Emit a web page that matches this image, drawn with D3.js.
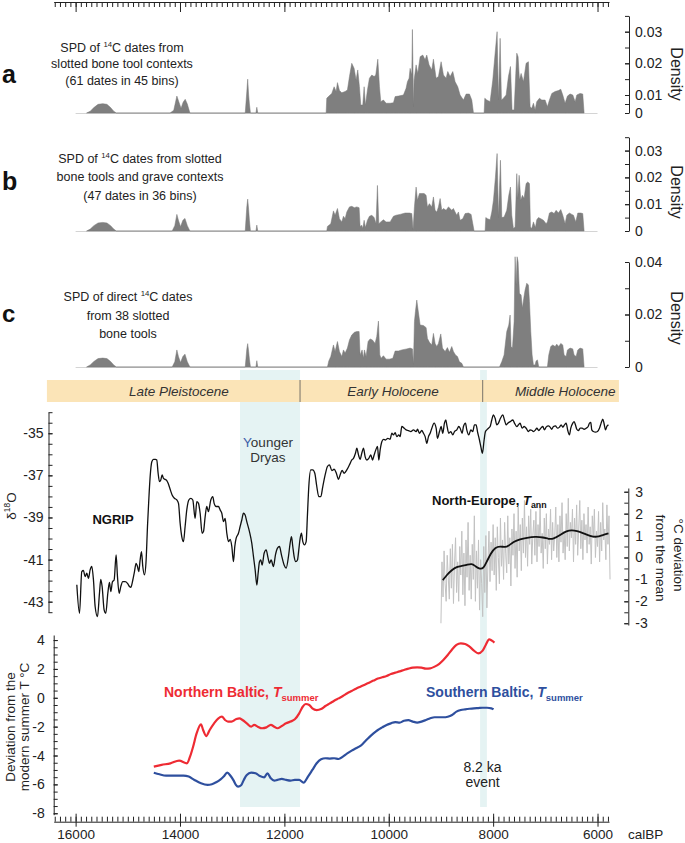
<!DOCTYPE html>
<html><head><meta charset="utf-8">
<script src="https://cdn.jsdelivr.net/npm/d3@7"></script>
<style>body{margin:0;background:#fff}svg{display:block}text{font-family:"Liberation Sans",Arial,sans-serif}</style>
</head><body><svg id="c" width="685" height="843"></svg>
<script>
// ---------------- DATA ----------------
const xMajorTicks = [16000,14000,12000,10000,8000,6000];
const youngerDryas = [12850, 11700];
const event82 = [8250, 8120];
const periodNames = ["Late Pleistocene","Early Holocene","Middle Holocene"];
const periodBounds = [16550, 11700, 8200, 5590];

const spdA = [[15790,0],[15720,0.001],[15650,0.003],[15570,0.0048],[15480,0.0052],[15400,0.0048],[15330,0.003],[15270,0.001],[15220,0],
[14190,0],[14120,0.0015],[14060,0.0094],[14020,0.006],[13980,0.0026],[13940,0.006],[13900,0.0076],[13860,0.005],[13810,0],
[12750,0],[12720,0.011],[12703,0.015],[12685,0.01],[12670,0.005],[12650,0],[12545,0],[12528,0.0032],[12510,0],
[11200,0],[11188,0.0082],[11156,0.0091],[11092,0.0105],[11047,0.0126],[11009,0.0111],[10983,0.0139],[10945,0.0114],[10900,0.0107],[10836,0.0111],[10792,0.0116],[10753,0.0158],[10709,0.0200],[10664,0.0184],[10626,0.0147],[10594,0.0179],[10562,0.0126],[10536,0.0044],[10498,0.0044],[10472,0.0126],[10447,0.0044],[10408,0.0116],[10370,0.0153],[10325,0.0163],[10281,0.0158],[10249,0.0163],[10210,0.0213],[10178,0.0126],[10153,0.0063],[10102,0.0072],[10051,0.0054],[9974,0.0054],[9910,0.0057],[9878,0.0091],[9814,0.0094],[9719,0.0100],[9668,0.0121],[9642,0.0142],[9610,0.0153],[9591,0.0184],[9559,0.0163],[9547,0.0307],[9534,0.0163],[9527,0.0035],[9514,0.0147],[9476,0.0195],[9444,0.0168],[9399,0.0221],[9348,0.0226],[9304,0.0211],[9272,0.0226],[9227,0.0195],[9176,0.0179],[9144,0.0213],[9093,0.0153],[9048,0.0158],[8997,0.0205],[8952,0.0163],[8901,0.0153],[8869,0.0174],[8824,0.0158],[8773,0.0174],[8729,0.0142],[8678,0.0126],[8633,0.0100],[8569,0.0072],[8518,0.0103],[8454,0.0103],[8409,0.0072],[8377,0],
[8173,0],[8160,0.0082],[8122,0.0072],[8058,0.0063],[8007,0.0147],[7962,0.0232],[7924,0.0300],[7898,0.0072],[7866,0.0279],[7841,0.0072],[7803,0.0082],[7751,0.0100],[7707,0.0158],[7668,0.0190],[7637,0.0017],[7598,0.0017],[7566,0.0168],[7547,0.0232],[7522,0.0221],[7496,0.0147],[7464,0.0168],[7419,0.0142],[7368,0.0200],[7324,0.0205],[7292,0.0035],[7260,0.0026],[7228,0.0054],[7196,0.0017],[7164,0.0063],[7113,0.0082],[7068,0.0072],[7004,0.0072],[6960,0.0035],[6921,0.0072],[6876,0.0105],[6813,0.0111],[6749,0.0114],[6704,0.0118],[6666,0.0100],[6621,0.0054],[6576,0.0094],[6525,0.0103],[6474,0.0100],[6429,0.0063],[6397,0.0100],[6334,0.0105],[6283,0.0103],[6257,0]];

const spdB = [[15790,0],[15720,0.0007],[15650,0.002],[15570,0.003],[15480,0.0032],[15400,0.003],[15330,0.002],[15270,0.0007],[15220,0],
[14150,0],[14100,0.002],[14060,0.0062],[14030,0.004],[13990,0.0016],[13945,0.004],[13905,0.0047],[13860,0.002],[13810,0],
[12750,0],[12720,0.009],[12703,0.0119],[12685,0.008],[12670,0.004],[12650,0],[12545,0],[12528,0.0022],[12510,0],
[11188,0],[11175,0.0017],[11111,0.0027],[11060,0.0075],[11028,0.0059],[10983,0.0084],[10945,0.0046],[10900,0.0034],[10868,0.0055],[10836,0.0046],[10804,0.0071],[10753,0.0090],[10709,0.0092],[10658,0.0087],[10613,0.0090],[10568,0.0087],[10549,0.0017],[10517,0.0021],[10498,0.0009],[10472,0.0040],[10447,0.0013],[10408,0.0040],[10370,0.0055],[10325,0.0059],[10281,0.0050],[10243,0.0027],[10217,0.0170],[10191,0.0027],[10153,0.0034],[10102,0.0042],[10051,0.0034],[9974,0.0034],[9910,0.0055],[9859,0.0059],[9783,0.0062],[9687,0.0067],[9604,0.0067],[9559,0.0065],[9534,0.0005],[9508,0.0090],[9476,0.0164],[9450,0.0115],[9412,0.0140],[9367,0.0140],[9323,0.0140],[9284,0.0133],[9259,0.0090],[9221,0.0102],[9176,0.0090],[9144,0.0127],[9112,0.0077],[9080,0.0071],[9048,0.0090],[9016,0.0121],[8984,0.0077],[8952,0.0084],[8901,0.0077],[8857,0.0090],[8824,0.0084],[8793,0.0077],[8761,0.0084],[8729,0.0071],[8697,0.0059],[8665,0.0071],[8633,0.0040],[8582,0.0046],[8537,0.0065],[8473,0.0067],[8422,0.0062],[8390,0.0027],[8365,0],
[8154,0],[8141,0.0050],[8109,0.0046],[8058,0.0042],[8026,0.0071],[7994,0.0115],[7956,0.0201],[7924,0.0289],[7898,0.0050],[7860,0.0264],[7834,0.0050],[7790,0.0052],[7739,0.0077],[7700,0.0133],[7668,0.0164],[7643,0.0059],[7611,0.0009],[7579,0.0015],[7547,0.0214],[7528,0.0121],[7502,0.0208],[7471,0.0115],[7439,0.0133],[7407,0.0121],[7368,0.0177],[7336,0.0183],[7304,0.0177],[7285,0.0015],[7260,0.0009],[7228,0.0034],[7190,0.0013],[7164,0.0042],[7132,0.0050],[7087,0.0046],[7036,0.0040],[6985,0.0027],[6960,0.0034],[6921,0.0067],[6876,0.0071],[6832,0.0065],[6793,0.0077],[6749,0.0067],[6704,0.0080],[6666,0.0059],[6621,0.0027],[6589,0.0059],[6538,0.0067],[6493,0.0062],[6461,0.0059],[6417,0.0034],[6378,0.0067],[6321,0.0067],[6283,0.0065],[6257,0]];

const spdC = [[15790,0],[15720,0.0008],[15650,0.0021],[15570,0.0032],[15480,0.0034],[15400,0.0032],[15330,0.0021],[15270,0.0008],[15220,0],
[14150,0],[14100,0.002],[14060,0.0065],[14030,0.004],[13990,0.0017],[13945,0.004],[13905,0.0049],[13860,0.002],[13810,0],
[12750,0],[12720,0.0068],[12703,0.0089],[12685,0.006],[12670,0.003],[12650,0],[12545,0],[12528,0.0024],[12510,0],
[11175,0],[11149,0.0023],[11111,0.0040],[11060,0.0084],[11028,0.0059],[10983,0.0097],[10945,0.0059],[10900,0.0040],[10868,0.0065],[10836,0.0053],[10792,0.0072],[10753,0.0103],[10709,0.0122],[10658,0.0132],[10613,0.0135],[10568,0.0135],[10549,0.0046],[10511,0.0065],[10485,0.0033],[10466,0.0065],[10434,0.0040],[10396,0.0097],[10357,0.0107],[10313,0.0103],[10262,0.0090],[10230,0.0116],[10198,0.0175],[10172,0.0046],[10147,0.0033],[10102,0.0043],[10051,0.0030],[9987,0.0030],[9923,0.0033],[9878,0.0061],[9814,0.0061],[9751,0.0065],[9655,0.0069],[9591,0.0072],[9546,0.0069],[9527,0.0010],[9508,0.0173],[9489,0.0211],[9463,0.0255],[9438,0.0217],[9399,0.0160],[9336,0.0158],[9284,0.0150],[9259,0.0109],[9221,0.0094],[9176,0.0084],[9144,0.0128],[9112,0.0090],[9080,0.0078],[9048,0.0090],[9003,0.0126],[8971,0.0072],[8920,0.0059],[8876,0.0074],[8837,0.0056],[8793,0.0078],[8761,0.0059],[8722,0.0046],[8684,0.0040],[8646,0.0020],[8601,0.0014],[8569,0],
[7879,0],[7835,0.0020],[7790,0.0046],[7739,0.0135],[7700,0.0160],[7675,0.0198],[7656,0.0078],[7630,0.0072],[7598,0.0173],[7579,0.0420],[7560,0.0312],[7541,0.0420],[7522,0.0401],[7496,0.0281],[7464,0.0274],[7439,0.0224],[7413,0.0262],[7388,0.0293],[7356,0.0319],[7324,0.0312],[7304,0.0249],[7279,0.0135],[7253,0.0046],[7228,0.0008],[7196,0.0008],[7177,0.0023],[7151,0.0027],[7126,0],
[6960,0],[6934,0.0046],[6896,0.0078],[6857,0.0084],[6813,0.0078],[6781,0.0087],[6742,0.0078],[6704,0.0090],[6666,0.0084],[6640,0.0046],[6602,0.0040],[6576,0.0065],[6525,0.0072],[6474,0.0069],[6449,0.0046],[6410,0.0040],[6378,0.0065],[6334,0.0072],[6283,0.0069],[6257,0]];

const ngripYears = [15977,15926,15882,15850,15818,15786,15754,15722,15690,15658,15626,15581,15543,15518,15492,15454,15422,15383,15352,15326,15294,15262,15224,15198,15166,15134,15096,15051,15006,14968,14943,14904,14872,14841,14815,14790,14764,14738,14713,14681,14649,14623,14598,14572,14540,14508,14470,14445,14419,14393,14368,14342,14317,14285,14253,14227,14189,14151,14106,14061,14029,13997,13966,13934,13902,13870,13831,13793,13755,13710,13678,13646,13614,13576,13550,13518,13487,13455,13410,13372,13346,13308,13263,13231,13199,13167,13135,13103,13071,13039,13007,12976,12950,12925,12880,12848,12816,12784,12752,12720,12669,12624,12592,12560,12528,12503,12477,12452,12426,12388,12350,12311,12286,12254,12209,12171,12132,12094,12056,12005,11966,11922,11890,11864,11839,11813,11781,11749,11724,11698,11673,11647,11615,11583,11558,11532,11494,11456,11417,11379,11341,11302,11264,11219,11175,
11136,11091,11047,11008,10964,10932,10893,10855,10804,10753,10708,10676,10638,10612,10580,10549,10517,10485,10453,10421,10382,10344,10312,10280,10248,10216,10191,10165,10133,10101,10063,10018,9974,9942,9910,9878,9846,9808,9782,9750,9705,9667,9622,9578,9527,9476,9450,9412,9367,9335,9303,9271,9239,9207,9175,9131,9092,9067,9028,8997,8965,8933,8907,8888,8850,8811,8773,8741,8696,8658,8632,8594,8569,8530,8505,8466,8428,8390,8358,8326,8300,8262,8230,8205,8173,8147,8122,8090,8058,8026,7994,7962,7930,7898,7860,7815,7783,7751,7719,7674,7623,7591,7547,7515,7483,7445,7406,7368,7323,7291,7253,7227,7189,7163,7125,7087,7048,7017,6985,6940,6908,6876,6844,6806,6768,6729,6697,6665,6633,6601,6570,6538,6512,6474,6448,6423,6397,6365,6333,6295,6257,6218,6180,6154,6129,6110,6078,6039,6001,5963,5931,5898,5873,5847,5822,5790];
const ngripD18O = [-42.20,-43.55,-41.57,-41.52,-41.81,-41.65,-41.89,-41.49,-41.33,-41.97,-43.23,-43.71,-42.60,-41.94,-42.28,-43.39,-43.55,-42.60,-42.09,-42.52,-42.05,-41.97,-40.78,-41.81,-42.60,-42.28,-42.05,-42.05,-42.13,-42.28,-42.32,-41.97,-41.57,-41.18,-41.33,-41.57,-41.02,-40.62,-41.33,-41.73,-41.02,-39.43,-38.17,-37.06,-36.35,-36.24,-36.24,-36.27,-36.90,-37.30,-37.22,-36.98,-37.14,-37.19,-37.25,-37.38,-37.66,-37.93,-38.09,-38.17,-38.33,-39.28,-39.91,-40.15,-39.43,-38.64,-38.17,-38.09,-38.17,-39.04,-38.25,-38.33,-38.80,-39.75,-39.67,-38.96,-38.48,-38.72,-38.17,-38.01,-38.33,-38.48,-38.48,-38.64,-38.80,-39.20,-39.04,-39.75,-40.15,-40.04,-40.38,-41.10,-40.38,-39.99,-39.75,-39.43,-39.12,-38.80,-38.88,-39.20,-39.67,-40.23,-40.86,-41.49,-42.21,-41.65,-41.10,-41.02,-41.26,-40.70,-40.54,-40.94,-41.18,-41.02,-41.33,-40.78,-40.46,-40.38,-40.78,-41.26,-41.41,-40.86,-40.23,-39.91,-40.38,-40.86,-41.10,-41.02,-40.54,-39.99,-39.75,-40.15,-40.30,-40.15,-38.88,-37.53,-36.74,-36.74,-36.90,-37.53,-38.01,-38.01,-37.53,-36.98,-36.58,
-36.50,-36.77,-36.71,-36.87,-37.19,-36.98,-36.77,-36.90,-36.74,-36.50,-36.27,-36.19,-35.95,-35.71,-36.03,-36.24,-35.95,-35.71,-36.11,-36.27,-36.19,-36.03,-36.27,-36.03,-35.79,-35.63,-36.27,-35.79,-35.40,-35.29,-35.32,-35.24,-35.29,-35.00,-35.08,-34.97,-35.16,-35.08,-35.16,-34.68,-34.76,-34.84,-34.87,-34.92,-34.84,-34.92,-34.81,-35.00,-34.87,-35.00,-35.16,-35.48,-35.16,-35.00,-34.76,-34.52,-34.76,-35.24,-34.92,-34.68,-35.00,-34.52,-34.37,-34.60,-35.00,-34.92,-35.08,-34.92,-34.84,-34.68,-34.76,-35.00,-34.68,-34.52,-34.84,-35.08,-34.84,-34.92,-34.60,-34.60,-34.92,-35.32,-35.71,-35.95,-35.32,-34.92,-34.84,-34.76,-34.68,-34.37,-34.13,-34.29,-34.60,-34.52,-34.29,-34.13,-34.37,-34.60,-34.52,-34.45,-34.37,-34.52,-34.68,-34.60,-34.52,-34.76,-34.68,-34.76,-34.92,-34.84,-34.87,-34.92,-34.84,-34.76,-34.87,-34.76,-34.68,-34.84,-34.71,-34.65,-34.71,-34.81,-34.68,-34.65,-34.76,-34.71,-34.60,-34.71,-34.60,-34.52,-34.87,-35.08,-34.76,-34.52,-34.45,-34.60,-34.81,-34.87,-34.76,-34.76,-34.81,-34.76,-34.68,-34.52,-34.49,-34.84,-34.92,-34.95,-34.92,-34.76,-34.52,-34.33,-34.56,-34.84,-34.68,-34.60];

const neSmooth = [[8965,-1.03],[8888,-0.80],[8792,-0.57],[8696,-0.42],[8601,-0.39],[8505,-0.34],[8409,-0.27],[8345,-0.39],[8249,-0.54],[8186,-0.49],[8122,-0.19],[8045,0.19],[7962,0.46],[7866,0.52],[7770,0.46],[7707,0.52],[7611,0.72],[7483,0.84],[7355,0.90],[7196,0.95],[7036,0.92],[6940,0.84],[6844,0.84],[6717,1.03],[6589,1.22],[6493,1.25],[6397,1.22],[6269,1.10],[6142,0.98],[6014,0.92],[5899,1.03],[5790,1.10]];
const neGreyStart = 9000, neGreyStep = 20;
const neGrey = [-3.0,-0.2,-1.8,0.3,-1.2,-2.0,0.1,-0.9,-1.9,0.4,
-1.4,0.6,-2.1,-0.3,0.9,-1.6,-0.2,-2.0,0.5,-0.8,
1.2,-1.7,0.2,-2.2,0.8,-0.9,1.6,-1.5,0.1,-1.9,
0.6,-1.0,1.9,-2.0,0.3,-1.4,0.8,-2.4,-0.1,-1.2,
-2.7,0.5,-1.6,1.0,-2.3,-0.3,1.2,-1.1,0.7,-0.6,
1.5,-0.8,0.9,-1.5,1.4,0.0,-1.2,1.8,-0.4,0.8,
-1.0,1.6,0.2,-0.7,1.9,-0.3,0.9,-1.3,1.3,0.1,
2.0,-0.5,1.2,-0.9,2.3,0.3,1.5,-0.6,1.8,0.2,
2.6,0.0,1.4,-0.4,1.9,0.6,2.2,-0.3,1.0,1.7,
0.1,2.1,-0.2,1.5,0.5,2.4,0.2,1.1,-0.5,1.8,
0.4,2.0,-0.3,1.3,0.6,2.2,-0.1,1.6,0.3,1.0,
2.3,0.0,1.5,-0.2,1.9,0.7,2.5,0.2,1.2,-0.1,
2.0,0.5,2.7,0.3,1.6,0.9,2.2,-0.2,1.8,0.6,
2.4,0.1,1.3,2.6,0.4,1.7,-0.1,2.0,0.8,1.5,
0.2,2.3,0.6,1.4,-0.3,1.9,0.9,2.2,0.0,1.2,
0.5,2.1,-0.2,1.6,0.3,2.5,0.8,1.3,-0.1,2.4,
0.6,1.9,-1.0];

const northBaltic = [[14502,-4.77],[14352,-4.65],[14184,-4.54],[14017,-4.35],[13866,-4.54],[13808,-4.08],[13749,-3.39],[13682,-2.47],[13598,-1.84],[13557,-2.23],[13498,-2.65],[13431,-2.23],[13347,-1.77],[13264,-1.42],[13197,-1.31],[13138,-1.54],[13080,-1.65],[13013,-1.65],[12929,-1.49],[12862,-1.42],[12803,-1.54],[12720,-1.77],[12636,-2.00],[12578,-1.88],[12511,-2.00],[12427,-2.11],[12343,-2.05],[12260,-1.88],[12193,-2.00],[12134,-2.11],[12050,-1.95],[11967,-1.77],[11883,-1.65],[11799,-1.49],[11716,-1.08],[11649,-0.62],[11590,-0.43],[11523,-0.50],[11464,-0.73],[11381,-0.85],[11297,-0.78],[11214,-0.57],[11130,-0.39],[11046,-0.20],[10962,-0.04],[10879,0.12],[10795,0.31],[10711,0.47],[10628,0.63],[10544,0.77],[10460,0.91],[10377,1.05],[10293,1.19],[10209,1.33],[10126,1.42],[10042,1.51],[9958,1.65],[9875,1.74],[9791,1.83],[9707,1.93],[9624,2.02],[9540,2.09],[9456,2.11],[9373,2.09],[9289,2.02],[9205,2.04],[9121,2.16],[9038,2.34],[8954,2.62],[8870,2.96],[8787,3.35],[8703,3.66],[8619,3.77],[8536,3.73],[8452,3.54],[8368,3.27],[8285,3.08],[8201,3.27],[8142,3.66],[8076,4.05],[8009,3.93],[7975,3.82]];
const southBaltic = [[14502,-5.19],[14393,-5.30],[14268,-5.39],[14100,-5.39],[13933,-5.39],[13833,-5.46],[13724,-5.69],[13598,-5.92],[13473,-6.03],[13389,-5.99],[13306,-5.85],[13222,-5.65],[13163,-5.46],[13096,-5.19],[13029,-5.42],[12971,-5.74],[12929,-6.03],[12887,-6.15],[12829,-6.06],[12778,-5.69],[12720,-5.35],[12636,-5.19],[12552,-5.23],[12469,-5.42],[12385,-5.51],[12326,-5.23],[12260,-5.58],[12193,-5.74],[12134,-5.69],[12050,-5.62],[11967,-5.69],[11883,-5.74],[11799,-5.69],[11716,-5.69],[11632,-5.88],[11548,-5.46],[11464,-5.00],[11381,-4.54],[11297,-4.26],[11214,-4.19],[11130,-4.21],[11046,-4.19],[10962,-4.24],[10879,-4.08],[10795,-3.85],[10711,-3.66],[10628,-3.50],[10544,-3.34],[10460,-3.04],[10377,-2.74],[10293,-2.47],[10209,-2.23],[10126,-2.05],[10042,-1.88],[9958,-1.77],[9875,-1.68],[9791,-1.72],[9707,-1.59],[9624,-1.55],[9540,-1.65],[9456,-1.72],[9373,-1.65],[9289,-1.54],[9205,-1.42],[9121,-1.35],[9038,-1.35],[8954,-1.35],[8870,-1.31],[8787,-1.19],[8703,-0.96],[8619,-0.85],[8536,-0.80],[8452,-0.76],[8368,-0.73],[8285,-0.71],[8201,-0.69],[8117,-0.69],[8034,-0.73],[7992,-0.80]];

// ---------------- LAYOUT ----------------
(function () {
const svg = d3.select("#c");
const FONT = '"Liberation Sans",Arial,sans-serif';
const x = d3.scaleLinear().domain([16420, 5780]).range([53.7, 609]);
const minorYears = d3.range(16400, 5799, -100);

const bands = svg.append("g");
[youngerDryas, event82].forEach(b => {
  bands.append("rect").attr("x", x(b[0])).attr("width", x(b[1]) - x(b[0]))
    .attr("y", 370).attr("height", 437).attr("fill", "#e5f3f3");
});

const pb = svg.append("g");
pb.append("rect").attr("x", x(periodBounds[0])).attr("width", x(periodBounds[3]) - x(periodBounds[0]))
  .attr("y", 380).attr("height", 22).attr("fill", "#fbe4b7");
[periodBounds[1], periodBounds[2]].forEach(b => pb.append("line").attr("x1", x(b)).attr("x2", x(b))
  .attr("y1", 380).attr("y2", 402).attr("stroke", "#555").attr("stroke-width", 0.8));
const periodLabelYears = [14020, 9920, 6620];
periodNames.forEach((n, i) => pb.append("text").attr("x", x(periodLabelYears[i])).attr("y", 396)
  .attr("text-anchor", "middle").attr("font-style", "italic").attr("font-size", 13.5).attr("fill", "#333").text(n));

function styleAxis(g, fs) {
  g.selectAll("text").attr("font-family", FONT).attr("font-size", fs).attr("fill", "#222");
  g.selectAll("line,path").attr("stroke", "#222");
  g.attr("font-family", FONT);
}

const topAx = svg.append("g").attr("transform", "translate(0,2)");
topAx.call(d3.axisBottom(x).tickValues(minorYears).tickSize(5).tickSizeOuter(0).tickFormat(""));
topAx.append("g").call(d3.axisBottom(x).tickValues(xMajorTicks).tickSize(10).tickSizeOuter(0).tickFormat(""))
  .call(g => g.select(".domain").remove());
styleAxis(topAx, 12);

const botAx = svg.append("g").attr("transform", "translate(0,821.7)");
botAx.call(d3.axisTop(x).tickValues(minorYears).tickSize(5).tickSizeOuter(0).tickFormat(""));
botAx.append("g").call(d3.axisTop(x).tickValues(xMajorTicks).tickSize(8).tickFormat(""))
  .call(g => g.select(".domain").remove());
botAx.append("g").call(d3.axisBottom(x).tickValues(xMajorTicks).tickSize(5).tickPadding(3).tickFormat(d => String(d)))
  .call(g => g.select(".domain").remove());
styleAxis(botAx, 13.5);
svg.append("text").attr("x", 628).attr("y", 838.5).attr("font-size", 13.5).attr("fill", "#222").text("calBP");

function richText(g, xx, yy, parts, fs, anchor, extra) {
  const t = g.append("text").attr("x", xx).attr("y", yy).attr("font-size", fs)
    .attr("text-anchor", anchor || "middle");
  if (extra) extra(t);
  let shift = 0;
  parts.forEach(p => {
    const [s, k] = p;
    const ts = t.append("tspan").text(s);
    let target = 0;
    if (k === "sup") { ts.attr("font-size", fs * 0.62); target = -fs * 0.4; }
    else if (k === "sub") { ts.attr("font-size", fs * 0.68); target = fs * 0.25; }
    else if (k === "it") { ts.attr("font-style", "italic"); }
    ts.attr("dy", target - shift); shift = target;
  });
  return t;
}

const spdPanels = [
  {data: spdA, y: d3.scaleLinear().domain([0, 0.01, 0.02, 0.03, 0.035]).range([113, 95, 63.3, 31.7, 15.9]),
   minor: d3.range(0, 0.03501, 0.005), labels: [0, 0.01, 0.02, 0.03], letter: "a", ly: 83, lfs: 25,
   tx: 122, ty: [51.5, 68, 84.5], dens: 74,
   lines: [[["SPD of "], ["14", "sup"], ["C dates from"]], [["slotted bone tool contexts"]], [["(61 dates in 45 bins)"]]]},
  {data: spdB, y: d3.scaleLinear().domain([0, 0.035]).range([231, 137.2]),
   minor: d3.range(0, 0.03501, 0.005), labels: [0, 0.01, 0.02, 0.03], letter: "b", ly: 190, lfs: 25,
   tx: 140, ty: [163, 181, 199.5], dens: 192,
   lines: [[["SPD of "], ["14", "sup"], ["C dates from slotted"]], [["bone tools and grave contexts"]], [["(47 dates in 36 bins)"]]]},
  {data: spdC, y: d3.scaleLinear().domain([0, 0.04]).range([367, 262]),
   minor: d3.range(0, 0.04001, 0.01), labels: [0, 0.02, 0.04], letter: "c", ly: 322, lfs: 24,
   tx: 128, ty: [301, 319.5, 338], dens: 318,
   lines: [[["SPD of direct "], ["14", "sup"], ["C dates"]], [["from 38 slotted"]], [["bone tools"]]]}
];
spdPanels.forEach(p => {
  const g = svg.append("g");
  const y0 = p.y(0);
  g.append("line").attr("x1", x(16000)).attr("x2", x(6000)).attr("y1", y0 + 0.5).attr("y2", y0 + 0.5)
    .attr("stroke", "#d4d4d4").attr("stroke-width", 1);
  const area = d3.area().x(d => x(d[0])).y0(y0).y1(d => p.y(d[1]));
  g.append("path").datum(p.data).attr("d", area).attr("fill", "#7f7f7f")
    .attr("stroke", "#777").attr("stroke-width", 0.5);
  const ax = svg.append("g").attr("transform", "translate(629,0)");
  ax.call(d3.axisRight(p.y).tickValues(p.minor).tickSize(-4).tickSizeOuter(0).tickFormat(""));
  ax.append("g").call(d3.axisRight(p.y).tickValues(p.labels).tickSize(-4).tickPadding(6)
    .tickFormat(d => d === 0 ? "0" : d.toFixed(2))).call(gg => gg.select(".domain").remove());
  styleAxis(ax, 14);
  svg.append("text").attr("transform", `translate(671,${p.dens}) rotate(90)`).attr("text-anchor", "middle")
    .attr("font-size", 16).attr("fill", "#222").text("Density");
  svg.append("text").attr("x", 2).attr("y", p.ly).attr("font-size", p.lfs).attr("font-weight", "bold")
    .attr("fill", "#111").text(p.letter);
  p.lines.forEach((ln, i) => richText(svg, p.tx, p.ty[i], ln, 12.5, "middle", t => t.attr("fill", "#222")));
});

const yN = d3.scaleLinear().domain([-34, -43.5]).range([412.2, 612.2]);
const ngrip = ngripYears.map((t, i) => [t, ngripD18O[i]]);
svg.append("path").datum(ngrip)
  .attr("d", d3.line().x(d => x(d[0])).y(d => yN(d[1])).curve(d3.curveMonotoneX))
  .attr("fill", "none").attr("stroke", "#111").attr("stroke-width", 1.3);
const axN = svg.append("g").attr("transform", "translate(48.5,0)");
axN.call(d3.axisLeft(yN).tickValues(d3.range(-34, -43.51, -0.5)).tickSize(-4).tickSizeOuter(0).tickFormat(""));
axN.append("g").call(d3.axisLeft(yN).tickValues([-35, -37, -39, -41, -43]).tickSize(-4).tickPadding(5)
  .tickFormat(d => String(d))).call(g => g.select(".domain").remove());
styleAxis(axN, 14);
richText(svg, 0, 0, [["δ"], ["18", "sup"], ["O"]], 13.5, "middle",
  t => t.attr("transform", "translate(15.5,506) rotate(-90)").attr("fill", "#222"));
svg.append("text").attr("x", 113).attr("y", 524).attr("text-anchor", "middle").attr("font-size", 13)
  .attr("font-weight", "bold").attr("fill", "#111").text("NGRIP");
const yd = svg.append("text").attr("x", 268).attr("y", 446.5).attr("text-anchor", "middle").attr("font-size", 13.5).attr("fill", "#333");
yd.append("tspan").attr("fill", "#3c5ea8").text("Y");
yd.append("tspan").text("ounger");
svg.append("text").attr("x", 268).attr("y", 461.5).attr("text-anchor", "middle").attr("font-size", 13.5)
  .attr("fill", "#333").text("Dryas");

const yE = d3.scaleLinear().domain([-3.08, 3.17]).range([625, 488]);
const greyData = neGrey.map((v, i) => [neGreyStart - i * neGreyStep, v]);
svg.append("path").datum(greyData).attr("d", d3.line().x(d => x(d[0])).y(d => yE(d[1])))
  .attr("fill", "none").attr("stroke", "#c2c2c2").attr("stroke-width", 1);
svg.append("path").datum(neSmooth).attr("d", d3.line().x(d => x(d[0])).y(d => yE(d[1])).curve(d3.curveBasis))
  .attr("fill", "none").attr("stroke", "#111").attr("stroke-width", 1.8);
const axE = svg.append("g").attr("transform", "translate(628.3,0)");
axE.call(d3.axisRight(yE).tickValues(d3.range(-3, 3.01, 0.5)).tickSize(-4).tickSizeOuter(0).tickFormat(""));
axE.append("g").call(d3.axisRight(yE).tickValues([-3, -2, -1, 0, 1, 2, 3]).tickSize(-4).tickPadding(7)
  .tickFormat(d => String(d))).call(g => g.select(".domain").remove());
styleAxis(axE, 14);
svg.append("text").attr("transform", "translate(673.5,555) rotate(90)").attr("text-anchor", "middle")
  .attr("font-size", 13.5).attr("fill", "#222").text("°C deviation");
svg.append("text").attr("transform", "translate(655.5,558) rotate(90)").attr("text-anchor", "middle")
  .attr("font-size", 13.5).attr("fill", "#222").text("from the mean");
richText(svg, 432, 505, [["North-Europe, "], ["T", "it"], ["ann", "sub"]], 13, "start",
  t => t.attr("font-weight", "bold").attr("fill", "#111"));

const yT = d3.scaleLinear().domain([-8.1, 4.35]).range([814.7, 635]);
const tLine = d3.line().x(d => x(d[0])).y(d => yT(d[1])).curve(d3.curveMonotoneX);
svg.append("path").datum(northBaltic).attr("d", tLine).attr("fill", "none").attr("stroke", "#ee2b33").attr("stroke-width", 2.2);
svg.append("path").datum(southBaltic).attr("d", tLine).attr("fill", "none").attr("stroke", "#2e4f9e").attr("stroke-width", 2.2);
const axT = svg.append("g").attr("transform", "translate(53.7,0)");
axT.call(d3.axisLeft(yT).tickValues(d3.range(-8, 4.01, 0.5)).tickSize(-4).tickSizeOuter(0).tickFormat(""));
axT.append("g").call(d3.axisLeft(yT).tickValues([-8, -6, -4, -2, 0, 2, 4]).tickSize(-4).tickPadding(9)
  .tickFormat(d => String(d))).call(g => g.select(".domain").remove());
styleAxis(axT, 14);
svg.append("text").attr("transform", "translate(14.5,727) rotate(-90)").attr("text-anchor", "middle")
  .attr("font-size", 13.5).attr("fill", "#222").text("Deviation from the");
svg.append("text").attr("transform", "translate(29,727) rotate(-90)").attr("text-anchor", "middle")
  .attr("font-size", 13.5).attr("fill", "#222").text("modern summer T °C");
richText(svg, 164, 697, [["Northern Baltic, "], ["T", "it"], ["summer", "sub"]], 14, "start",
  t => t.attr("font-weight", "bold").attr("fill", "#ee2b33"));
richText(svg, 426, 697, [["Southern Baltic, "], ["T", "it"], ["summer", "sub"]], 14, "start",
  t => t.attr("font-weight", "bold").attr("fill", "#2e4f9e"));
svg.append("text").attr("x", 482.5).attr("y", 771.5).attr("text-anchor", "middle").attr("font-size", 14).attr("fill", "#222").text("8.2 ka");
svg.append("text").attr("x", 482.5).attr("y", 786.5).attr("text-anchor", "middle").attr("font-size", 14).attr("fill", "#222").text("event");
})();
</script></body></html>
